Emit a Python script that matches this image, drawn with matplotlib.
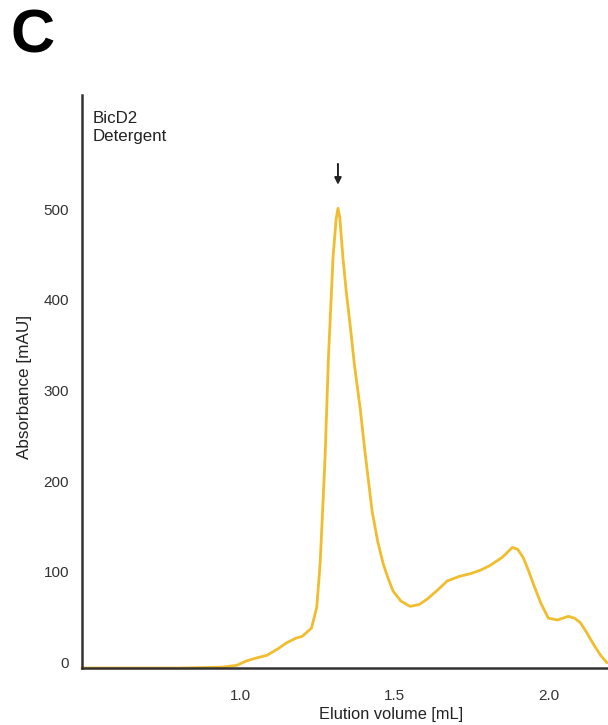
import matplotlib
matplotlib.use("Agg")
import matplotlib.pyplot as plt
import matplotlib.transforms as mtransforms

plt.rcParams["font.family"] = ["Liberation Sans", "DejaVu Sans"]

# elution profile
volume = [0.484, 0.60, 0.70, 0.80, 0.88, 0.94, 0.987, 1.02, 1.05, 1.085,
          1.12, 1.15, 1.18, 1.20, 1.23, 1.247, 1.258, 1.267, 1.274, 1.285,
          1.300, 1.310, 1.316, 1.322, 1.332, 1.343, 1.355, 1.370, 1.388, 1.405,
          1.427, 1.445, 1.463, 1.480, 1.495, 1.520, 1.550, 1.580, 1.606, 1.640,
          1.671, 1.710, 1.746, 1.780, 1.810, 1.850, 1.883, 1.900, 1.918, 1.935,
          1.951, 1.975, 2.000, 2.030, 2.065, 2.085, 2.104, 2.125, 2.147, 2.170,
          2.190]
absorbance = [0, 0, 0, 0, 0.5, 1, 3, 8, 11, 14,
              21, 28, 33, 35, 44, 67, 115, 180, 232, 342,
              453, 495, 507, 497, 453, 415, 380, 333, 287, 235,
              173, 140, 115, 98, 85, 74, 68, 70, 76, 86,
              96, 101, 104, 108, 113, 122, 133, 131, 122, 108,
              93, 72, 55, 53, 57, 55, 50, 39, 26, 14,
              6]

peak_volume = 1.316
yticks = [0, 100, 200, 300, 400, 500]
xticks = [1.0, 1.5, 2.0]
xticklabels = ["1.0", "1.5", "2.0"]

fig = plt.figure(figsize=(6.08, 7.25), dpi=100)
ax = fig.add_axes([0.135, 0.0786, 0.865, 0.7904])

ax.plot(volume, absorbance, color="#f0bd2e", linewidth=2.0,
        solid_joinstyle="round", clip_on=False)

ax.annotate(
    "",
    xy=(peak_volume, 533),
    xytext=(peak_volume, 556),
    arrowprops=dict(arrowstyle="-|>", color="#222222", lw=1.4,
                    mutation_scale=10, shrinkA=0, shrinkB=0),
)

ax.set_xlim(0.484, 2.194)
ax.set_ylim(0, 632)

ax.set_xticks(xticks)
ax.set_xticklabels(xticklabels)
ax.set_yticks(yticks)

ax.tick_params(axis="both", length=0, labelsize=11, labelcolor="#333333")
ax.tick_params(axis="x", pad=15)
ax.tick_params(axis="y", pad=9.5)

# y tick labels sit a little above their values in the reference
offset = mtransforms.ScaledTranslation(0, 4 / 72, fig.dpi_scale_trans)
for lab in ax.get_yticklabels():
    lab.set_transform(lab.get_transform() + offset)

for side in ["top", "right"]:
    ax.spines[side].set_visible(False)
for side in ["left", "bottom"]:
    ax.spines[side].set_linewidth(1.8)
    ax.spines[side].set_color("#333333")

ax.set_xlabel("Elution volume [mL]", fontsize=11.8, color="#222222")
ax.xaxis.set_label_coords(0.588, -0.068)
ax.set_ylabel("Absorbance [mAU]", fontsize=12.3, color="#222222")
ax.yaxis.set_label_coords(-0.095, 0.49)

ax.text(0.021, 0.972, "BicD2\nDetergent", transform=ax.transAxes,
        fontsize=12.2, va="top", ha="left", color="#222222", linespacing=1.25)

fig.text(0.018, 0.988, "C", fontsize=44, fontweight="bold", va="top", ha="left")

fig.savefig("out.png", dpi=100)
